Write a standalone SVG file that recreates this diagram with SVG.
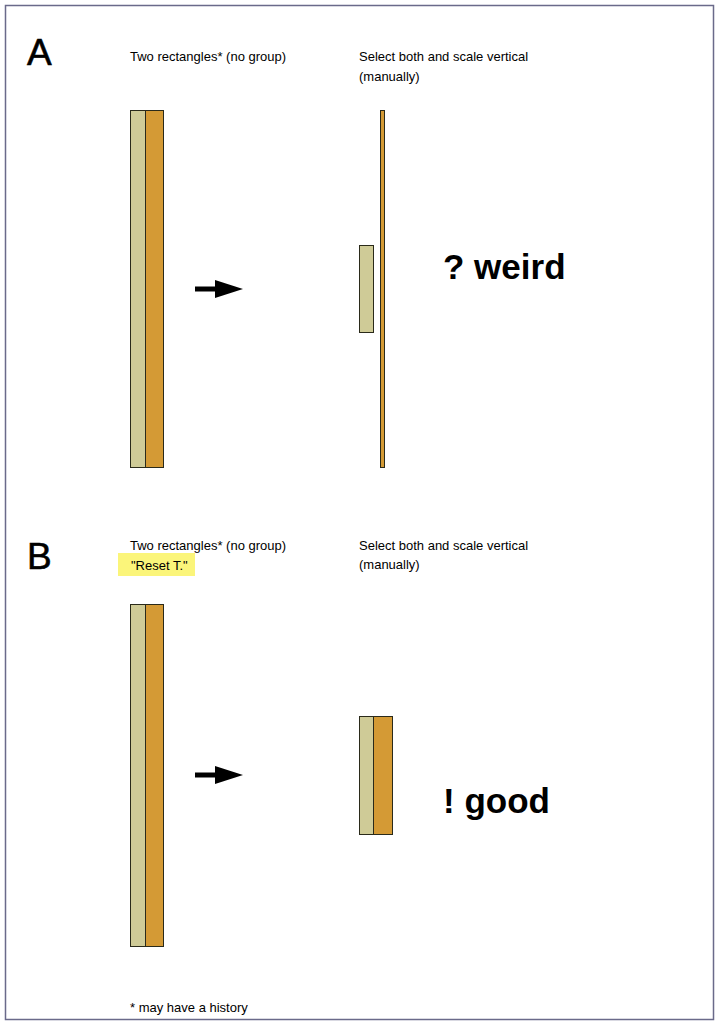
<svg xmlns="http://www.w3.org/2000/svg" width="720" height="1028" viewBox="0 0 720 1028">
<style>
.lbl{font-family:"Liberation Sans",Arial,sans-serif;font-size:13px;fill:#000}
.big{font-family:"Liberation Sans",Arial,sans-serif;font-size:37px;fill:#000;stroke:#000;stroke-width:0.6}
.res{font-family:"Liberation Sans",Arial,sans-serif;font-size:35px;font-weight:bold;fill:#000}
.g{fill:#cfcb97;stroke:#2a2a1a;stroke-width:1}
.o{fill:#d49a35;stroke:#2a2a1a;stroke-width:1}
</style>
<defs>
<marker id="ah" markerWidth="28" markerHeight="18" refX="0" refY="9" orient="auto" markerUnits="userSpaceOnUse"><path d="M0,0 L28,9 L0,18 Z" fill="#000"/></marker>
</defs>
<rect x="0" y="0" width="720" height="1028" fill="#fff"/>
<rect x="5.5" y="5.5" width="708" height="1014" fill="none" stroke="#6a6a8a" stroke-width="1.5"/>
<g id="panelA">
<text class="big" x="27" y="65">A</text>
<text class="lbl" x="130" y="61">Two rectangles* (no group)</text>
<text class="lbl" x="359" y="61">Select both and scale vertical</text>
<text class="lbl" x="359" y="81">(manually)</text>
<g id="A-left-rects">
<rect class="g" x="130.5" y="110.5" width="15" height="357"/>
<rect class="o" x="145.5" y="110.5" width="18" height="357"/>
</g>
<g id="A-right-rects">
<rect class="o" x="380.5" y="110.5" width="4" height="357"/>
<rect class="g" x="359.5" y="245.5" width="14" height="87"/>
</g>
<text class="res" x="443" y="279">? weird</text>
</g>
<g id="panelB">
<text class="big" x="27" y="569">B</text>
<text class="lbl" x="130" y="550">Two rectangles* (no group)</text>
<rect x="118" y="553" width="77" height="23" fill="#fbf57a"/>
<text class="lbl" x="131" y="570">"Reset T."</text>
<text class="lbl" x="359" y="550">Select both and scale vertical</text>
<text class="lbl" x="359" y="569">(manually)</text>
<g id="B-left-rects">
<rect class="g" x="130.5" y="604.5" width="15" height="342"/>
<rect class="o" x="145.5" y="604.5" width="18" height="342"/>
</g>
<g id="B-right-rects">
<rect class="g" x="359.5" y="716.5" width="14" height="118"/>
<rect class="o" x="373.5" y="716.5" width="19" height="118"/>
</g>
<text class="res" x="443" y="813">! good</text>
</g>
<g id="connectors">
<path d="M195,289 H215" stroke="#000" stroke-width="5" marker-end="url(#ah)"/>
<path d="M195,775 H215" stroke="#000" stroke-width="5" marker-end="url(#ah)"/>
</g>
<text class="lbl" x="130" y="1012">* may have a history</text>
</svg>
